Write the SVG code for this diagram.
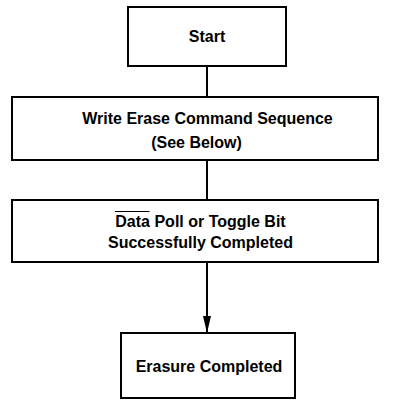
<svg xmlns="http://www.w3.org/2000/svg" width="413" height="407" viewBox="0 0 413 407">
  <defs>
    <style>
      .box { fill: #fff; stroke: #000; stroke-width: 2; }
      .lbl { font-family: "Liberation Sans", Arial, sans-serif; font-weight: bold; font-size: 16px; fill: #000; }
      .conn { stroke: #000; stroke-width: 2; fill: none; }
    </style>
  </defs>
  <g id="connectors">
    <line class="conn" x1="207" y1="66" x2="207" y2="97"/>
    <line class="conn" x1="207" y1="160" x2="207" y2="200"/>
    <line class="conn" x1="207" y1="262" x2="207" y2="332"/>
    <path d="M203,316 L211,316 L207,333 Z" fill="#000"/>
  </g>
  <g id="start">
    <rect class="box" x="128" y="7" width="158" height="59"/>
    <text class="lbl" x="207" y="42" text-anchor="middle">Start</text>
  </g>
  <g id="write">
    <rect class="box" x="12" y="97" width="366" height="63"/>
    <text class="lbl" x="207.5" y="124" text-anchor="middle">Write Erase Command Sequence</text>
    <text class="lbl" x="196.5" y="148" text-anchor="middle">(See Below)</text>
  </g>
  <g id="poll">
    <rect class="box" x="12" y="200" width="366" height="62"/>
    <text class="lbl" x="200.5" y="227" text-anchor="middle">Data Poll or Toggle Bit</text>
    <line x1="115" y1="211.5" x2="149.5" y2="211.5" stroke="#000" stroke-width="1.2"/>
    <text class="lbl" x="200.5" y="248" text-anchor="middle">Successfully Completed</text>
  </g>
  <g id="done">
    <rect class="box" x="121" y="333" width="174" height="65"/>
    <text class="lbl" x="209" y="372" text-anchor="middle">Erasure Completed</text>
  </g>
</svg>
